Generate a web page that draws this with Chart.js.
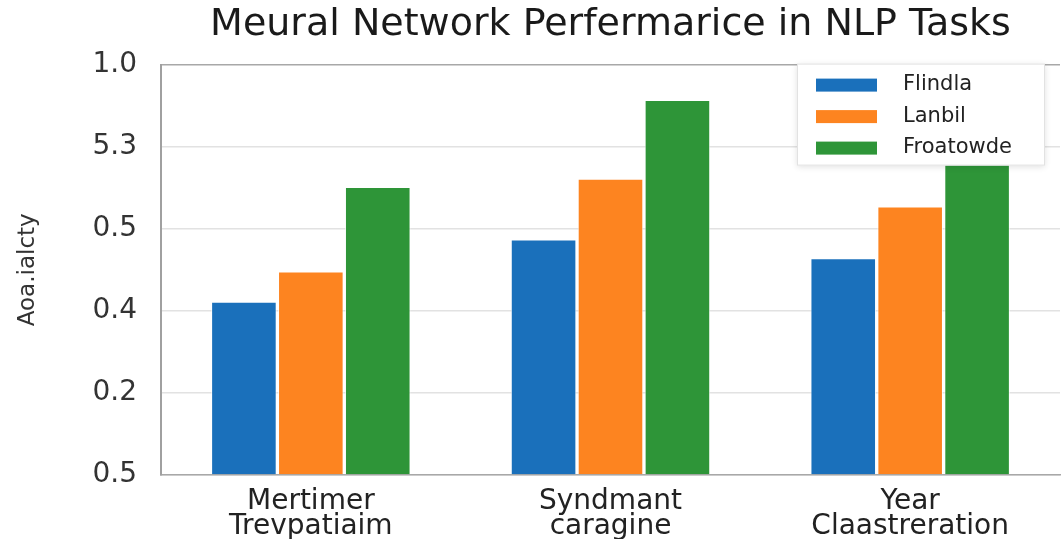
<!DOCTYPE html>
<html>
<head>
<meta charset="utf-8">
<script src="https://cdn.jsdelivr.net/npm/chart.js@4/dist/chart.umd.min.js"></script>
<style>
  html, body { margin: 0; padding: 0; background: #fff; }
  #wrap { width: 1062px; height: 539px; }
</style>
</head>
<body>
<div id="wrap"><canvas id="perfChart" width="1062" height="539"></canvas></div>
<script>
// Chart data (values in axis units, one unit per gridline)
const categories = [['Mertimer', 'Trevpatiaim'], ['Syndmant', 'caragine'], ['Year', 'Claastreration']];
const seriesNames = ['Flindla', 'Lanbil', 'Froatowde'];
const flindlaValues = [2.11, 2.87, 2.64];
const lanbilValues = [2.48, 3.61, 3.27];
const froatowdeValues = [3.51, 4.57, 3.79];
const yTickLabels = ['0.5', '0.2', '0.4', '0.5', '5.3', '1.0'];

const colors = ['#1a70bb', '#fd8420', '#2e9538'];
const FONT = "'DejaVu Sans', sans-serif";

// Legend box drawn over the plot, top right
const boxLegend = {
    id: 'boxLegend',
    afterDatasetsDraw(chart) {
        const { ctx, chartArea } = chart;
        const w = 248, h = 102;
        const x = chartArea.right - w - 15;
        const y = chartArea.top - 1;
        ctx.save();
        ctx.shadowColor = 'rgba(0,0,0,0.12)';
        ctx.shadowBlur = 6;
        ctx.shadowOffsetY = 1;
        ctx.fillStyle = '#fff';
        ctx.fillRect(x, y, w, h);
        ctx.shadowColor = 'transparent';
        ctx.strokeStyle = '#e2e2e2';
        ctx.lineWidth = 1;
        ctx.strokeRect(x + 0.5, y + 0.5, w - 1, h - 1);
        ctx.font = '21px ' + FONT;
        ctx.textBaseline = 'middle';
        chart.data.datasets.forEach((ds, i) => {
            const rowY = y + 21 + i * 31.5;
            ctx.fillStyle = ds.backgroundColor;
            ctx.fillRect(x + 19, rowY - 6, 61, 13);
            ctx.fillStyle = '#222';
            ctx.fillText(ds.label, x + 106, rowY);
        });
        ctx.restore();
    }
};

new Chart(document.getElementById('perfChart'), {
    type: 'bar',
    data: {
        labels: categories,
        datasets: [
            { label: seriesNames[0], data: flindlaValues, backgroundColor: colors[0] },
            { label: seriesNames[1], data: lanbilValues, backgroundColor: colors[1] },
            { label: seriesNames[2], data: froatowdeValues, backgroundColor: colors[2] }
        ].map(d => Object.assign(d, {
            borderColor: 'rgba(255,255,255,0.7)',
            borderWidth: 1,
            categoryPercentage: 0.67,
            barPercentage: 0.98
        }))
    },
    options: {
        responsive: false,
        animation: false,
        layout: { padding: { left: 14, right: 2, top: 0, bottom: 0 } },
        plugins: {
            legend: { display: false },
            tooltip: { enabled: false },
            title: {
                display: true,
                fullSize: false,
                text: 'Meural Network Perfermarice in NLP Tasks',
                color: '#1a1a1a',
                font: { family: FONT, size: 38, weight: 'normal' },
                padding: { top: 2, bottom: 17 }
            }
        },
        scales: {
            x: {
                afterFit: function(scale) { scale.height = 64; },
                grid: { display: false },
                border: { display: true, color: '#a8a8a8', width: 1.5 },
                ticks: {
                    color: '#222',
                    padding: 6,
                    maxRotation: 0,
                    font: { family: FONT, size: 28, lineHeight: 0.9 }
                }
            },
            y: {
                min: 0,
                max: 5,
                afterFit: function(scale) { scale.width = 147; },
                border: { display: true, color: '#a0a0a0', width: 2 },
                grid: {
                    drawTicks: false,
                    lineWidth: 1.5,
                    color: function(context) {
                        return context.index === 5 ? '#a8a8a8' : '#e2e2e2';
                    }
                },
                ticks: {
                    stepSize: 1,
                    padding: 24,
                    color: '#333',
                    font: { family: FONT, size: 28 },
                    callback: function(value, index) {
                        return yTickLabels[index];
                    }
                },
                title: {
                    display: true,
                    text: 'Aoa.ialcty',
                    color: '#333',
                    font: { family: FONT, size: 23 },
                    padding: { top: 0, bottom: 0 }
                }
            }
        }
    },
    plugins: [boxLegend]
});
</script>
</body>
</html>
